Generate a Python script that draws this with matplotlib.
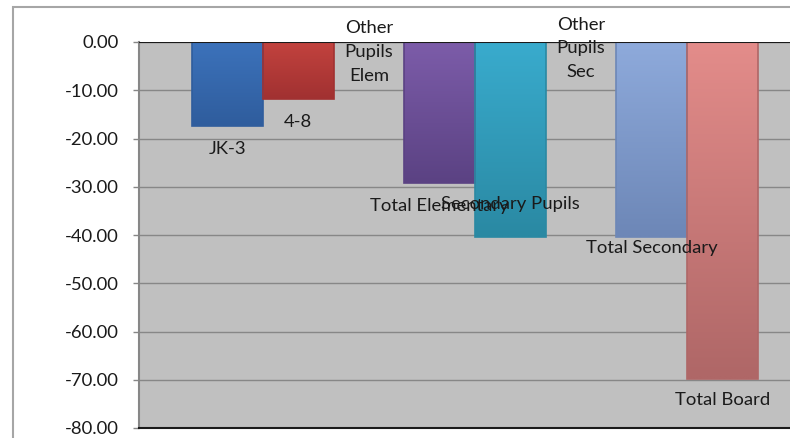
import numpy as np
import matplotlib
matplotlib.use('Agg')
import matplotlib.pyplot as plt
from matplotlib.patches import Rectangle
from matplotlib.colors import to_rgb

# Chart data
categories = ['JK-3', '4-8', 'Other\nPupils\nElem', 'Total Elementary',
              'Secondary Pupils', 'Other\nPupils\nSec', 'Total Secondary', 'Total Board']
values = [-17.5, -11.8, 0.0, -29.2, -40.4, 0.0, -40.4, -69.8]
y_ticks = [0, -10, -20, -30, -40, -50, -60, -70, -80]

# Styling: gradient colours (top, bottom) per point, Excel "vary colours" order
top_colors = ['#3C72BB', '#C2423E', '#9BBB59', '#7C5CA9', '#39ABCD', '#F79646', '#8EAADB', '#E38C8A']
bottom_colors = ['#2F5D9D', '#A13131', '#7D9A40', '#5B4283', '#2A89A3', '#C8722E', '#6D87B7', '#AF6767']
# label offsets below the bar end, in pixels
label_offsets = [23, 23, 10, 23, -33, 6.5, 11, 21]

plt.rcParams['font.family'] = ['Lato', 'DejaVu Sans']
FS = 13.3

W, H = 790, 438
fig = plt.figure(figsize=(W / 100, H / 100), dpi=100)
fig.patch.set_facecolor('white')

# outer chart border (runs off the right and bottom of the image)
fig.patches.append(Rectangle((13 / W, -0.1), 1.2, (H - 7) / H + 0.1, transform=fig.transFigure,
                             fill=False, edgecolor='#A6A6A6', lw=1.5))

left, right, top, bottom = 139, 811, 42, 428
ax = fig.add_axes([left / W, (H - bottom) / H, (right - left) / W, (bottom - top) / H])
ax.set_facecolor('#C0C0C0')

x = np.arange(len(values))
bar_w = 1.0
for i, v in enumerate(values):
    if v == 0:
        continue
    c0 = np.array(to_rgb(top_colors[i]))
    c1 = np.array(to_rgb(bottom_colors[i]))
    t = np.linspace(0, 1, 64)[:, None]
    grad = (c0 * (1 - t) + c1 * t)[:, None, :]
    ax.imshow(grad, extent=(x[i] - bar_w / 2, x[i] + bar_w / 2, v, 0), origin='upper',
              aspect='auto', zorder=3, interpolation='bilinear')
    ax.add_patch(Rectangle((x[i] - bar_w / 2, v), bar_w, -v, fill=False,
                           edgecolor=bottom_colors[i], lw=1.2, zorder=4))

for i, v in enumerate(values):
    ax.annotate(categories[i], xy=(x[i], v), xytext=(0, -label_offsets[i]),
                textcoords='offset pixels', ha='center', va='center',
                fontsize=FS, color='#1a1a1a', linespacing=1.6, zorder=6)

ax.set_xlim(-1.25, 8.25)
ax.set_ylim(-80, 0)
ax.set_yticks(y_ticks)
ax.set_yticklabels([f'{t:.2f}' for t in y_ticks])
ax.set_xticks([])
ax.set_axisbelow(True)
ax.yaxis.grid(True, color='#878787', lw=1)

for s in ['top', 'right']:
    ax.spines[s].set_visible(False)
ax.spines['left'].set_color('#878787')
ax.spines['left'].set_linewidth(1.5)
ax.spines['bottom'].set_color('#1a1a1a')
ax.spines['bottom'].set_linewidth(1.5)
ax.axhline(0, color='#1a1a1a', lw=1.5, zorder=5)

ax.tick_params(axis='y', length=4.5, width=1, color='#878787', pad=10,
               labelsize=FS, labelcolor='#1a1a1a')

fig.savefig('out.png', dpi=100)
